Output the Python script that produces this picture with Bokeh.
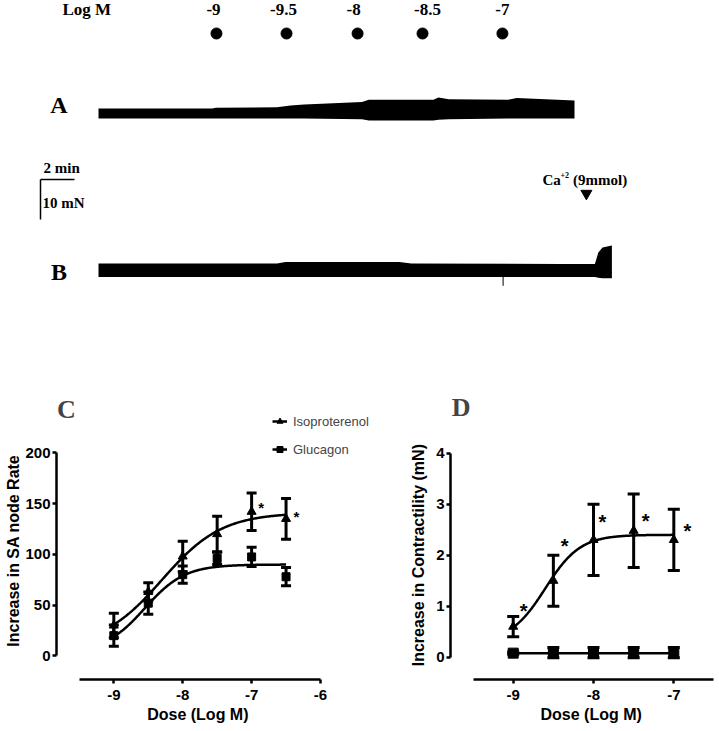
import numpy as np
from bokeh.plotting import figure
from bokeh.layouts import column, row
from bokeh.models import (ColumnDataSource, Whisker, TeeHead, Legend, LegendItem,
                          Label, FixedTicker, Range1d, Title)
from bokeh.core.properties import value
from bokeh.embed import file_html
from bokeh.resources import INLINE

# ======================= DATA =======================
# Panels A / B : force tracings (envelope in mN vs time in min)
dose_labels = ["-9", "-9.5", "-8", "-8.5", "-7"]
dose_times = [6.94, 11.06, 15.24, 19.06, 23.76]

trace_a_t = [0, 6.7, 6.9, 10.5, 11.3, 12.1, 15.5, 15.9, 19.7, 20.0, 20.6, 24.1, 24.6, 28.0]
trace_a_top = [2.5, 2.5, 2.7, 2.8, 3.25, 3.5, 4.1, 4.7, 4.7, 5.25, 4.8, 4.7, 5.1, 4.5]
trace_a_bottom = [0, 0, 0, 0, 0, 0, -0.2, -0.5, -0.5, -0.3, -0.2, 0, 0, 0]

trace_b_t = [0, 10.5, 11.0, 17.7, 18.4, 27.2, 29.2, 29.4, 29.65, 30.2]
trace_b_top = [3.4, 3.4, 3.75, 3.75, 3.4, 3.25, 3.25, 6.1, 7.4, 7.9]
trace_b_bottom = [0, 0, 0, 0, 0, 0, 0, -0.2, -0.3, -0.3]
trace_b_spike_t = [23.8]
trace_b_spike_min = [-2.2]

ca_time = 28.7
scale_min = 2
scale_mN = 10

# Panel C : SA node rate
dose_c = [-9, -8.5, -8, -7.5, -7, -6.5]
iso_rate_mean = [30, 63, 98, 120, 142, 135]
iso_rate_sem = [12, 9, 15, 17.5, 18.5, 20]
glu_rate_mean = [20, 52, 80, 96, 97.5, 78]
glu_rate_sem = [10.5, 11, 8.5, 6, 9.5, 9]
iso_rate_fit = (9, 141, -8.3, 1.0)      # bottom, top, logEC50, hill
glu_rate_fit = (4, 90, -8.55, 1.5)
rate_sig_x = [-6.86, -6.35]
rate_sig_y = [146, 137.6]
c_xticks = [-9, -8, -7, -6]
c_xlabels = ["-9", "-8", "-7", "-6"]
c_yticks = [0, 50, 100, 150, 200]
c_ylabels = ["0", "50", "100", "150", "200"]

# Panel D : contractility
dose_d = [-9, -8.5, -8, -7.5, -7]
iso_force_mean = [0.6, 1.5, 2.3, 2.48, 2.3]
iso_force_sem = [0.2, 0.5, 0.7, 0.72, 0.6]
glu_force_mean = [0.08, 0.09, 0.09, 0.09, 0.09]
glu_force_sem = [0.02, 0.1, 0.1, 0.1, 0.1]
iso_force_fit = (0.3, 2.4, -8.6, 2.0)
glu_force_fit = (0.08, 0.08, -8.5, 1.0)
force_sig_x = [-8.87, -8.36, -7.89, -7.35, -6.83]
force_sig_y = [0.9, 2.19, 2.65, 2.68, 2.48]
d_xticks = [-9, -8, -7]
d_xlabels = ["-9", "-8", "-7"]
d_yticks = [0, 1, 2, 3, 4]
d_ylabels = ["0", "1", "2", "3", "4"]

SERIF = "Liberation Serif"
SANS = "Liberation Sans"


def logistic(x, p):
    b, t, l, h = p
    return b + (t - b) / (1.0 + 10 ** ((l - x) * h))


# ======================= TOP (A / B) =======================
W = 719
H_TOP = 390
PX_MIN = 17.0
PX_MN = 4.0
T0 = 98  # px from left where t = 0


def fx(px):  # px -> minutes
    return (px - T0) / PX_MIN


def fy(py):  # px -> mN
    return (H_TOP - py) / PX_MN


top = figure(width=W, height=H_TOP, output_backend="svg", toolbar_location=None,
             x_range=Range1d(-T0 / PX_MIN, (W - T0) / PX_MIN),
             y_range=Range1d(0, H_TOP / PX_MN),
             x_axis_type=None, y_axis_type=None, min_border=0)
top.grid.visible = False
top.outline_line_color = None

A_BASE = fy(118)
B_BASE = fy(276.5)
top.varea(x=trace_a_t, y1=[A_BASE + v for v in trace_a_bottom],
          y2=[A_BASE + v for v in trace_a_top], fill_color="black")
top.varea(x=trace_b_t, y1=[B_BASE + v for v in trace_b_bottom],
          y2=[B_BASE + v for v in trace_b_top], fill_color="black")
top.segment(x0=trace_b_spike_t, y0=[B_BASE] * len(trace_b_spike_t),
            x1=trace_b_spike_t, y1=[B_BASE + v for v in trace_b_spike_min],
            line_color="black", line_width=1)

top.scatter(x=dose_times, y=[fy(33)] * len(dose_times), size=11, marker="circle",
            fill_color="black", line_color="black")
lab_src = ColumnDataSource(dict(x=dose_times, y=[fy(9)] * len(dose_times),
                                text=dose_labels, dx=[-3, -3, -4, 5, 0]))
top.text(x="x", y="y", text="text", x_offset="dx", source=lab_src,
         text_font=value(SERIF), text_font_style="bold", text_font_size="17px",
         text_align="center", text_baseline="middle", text_color="black")
top.text(x=[fx(62)], y=[fy(9)], text=["Log M"], text_font=value(SERIF),
         text_font_style="bold", text_font_size="17px", text_align="left",
         text_baseline="middle")
top.text(x=[fx(58.5), fx(58.5)], y=[fy(104), fy(271)], text=["A", "B"],
         text_font=value(SERIF), text_font_style="bold", text_font_size="24px",
         text_align="center", text_baseline="middle")

# scale bar
sb_x = fx(40)
sb_y = fy(179)
top.line(x=[sb_x, sb_x + scale_min], y=[sb_y, sb_y], line_color="black", line_width=1.5)
top.line(x=[sb_x, sb_x], y=[sb_y, sb_y - scale_mN], line_color="black", line_width=1.5)
top.text(x=[fx(43), fx(42)], y=[fy(167), fy(202)], text=["2 min", "10 mN"],
         text_font=value(SERIF), text_font_style="bold", text_font_size="15px",
         text_align="left", text_baseline="middle")

# Ca2+ marker
top.scatter(x=[ca_time], y=[fy(193)], marker="inverted_triangle", size=11,
            fill_color="black", line_color="black")
top.text(x=[fx(542)], y=[fy(179)], text=["Ca"], text_font=value(SERIF),
         text_font_style="bold", text_font_size="15px", text_align="left",
         text_baseline="middle")
top.text(x=[fx(560)], y=[fy(174)], text=["+2"], text_font=value(SERIF),
         text_font_style="bold", text_font_size="8px", text_align="left",
         text_baseline="middle")
top.text(x=[fx(572.5)], y=[fy(179)], text=["(9mmol)"], text_font=value(SERIF),
         text_font_style="bold", text_font_size="15px", text_align="left",
         text_baseline="middle")


# ======================= helpers for C / D =======================
def axis_title(p, text, side, offset, standoff):
    t = Title(text=text, align="left", offset=offset, standoff=standoff,
              text_font=SANS, text_font_style="bold", text_font_size="16px",
              text_color="black")
    p.add_layout(t, side)


def style_axes(p, xticks, xlabels, yticks, ylabels, xb, yb):
    xa = p.xaxis[0]
    ya = p.yaxis[0]
    xa.ticker = FixedTicker(ticks=xticks)
    ya.ticker = FixedTicker(ticks=yticks)
    xa.major_label_overrides = {t: l for t, l in zip(xticks, xlabels)}
    ya.major_label_overrides = {t: l for t, l in zip(yticks, ylabels)}
    xa.bounds = xb
    ya.bounds = yb
    for ax in (xa, ya):
        ax.axis_line_width = 2.5
        ax.axis_line_color = "black"
        ax.major_tick_line_width = 2.5
        ax.major_tick_line_color = "black"
        ax.major_tick_out = 4
        ax.major_tick_in = 0
        ax.minor_tick_line_color = None
        ax.major_label_text_font = SANS
        ax.major_label_text_font_style = "bold"
        ax.major_label_text_font_size = "15px"
        ax.major_label_text_color = "black"
    ya.major_label_standoff = 2
    xa.major_label_standoff = 6
    p.grid.visible = False
    p.outline_line_color = None


def add_series(p, xs, mean, sem, fit, marker, msize, head, x_end):
    src = ColumnDataSource(dict(x=xs, y=mean,
                                upper=[m + s for m, s in zip(mean, sem)],
                                lower=[m - s for m, s in zip(mean, sem)]))
    w = Whisker(source=src, base="x", upper="upper", lower="lower",
                line_color="black", line_width=3,
                upper_head=TeeHead(size=head, line_width=3, line_color="black"),
                lower_head=TeeHead(size=head, line_width=3, line_color="black"))
    p.add_layout(w)
    cx = np.linspace(xs[0], x_end, 200)
    ln = p.line(x=cx, y=logistic(cx, fit), line_color="black", line_width=2.5)
    pts = p.scatter(x="x", y="y", source=src, marker=marker, size=msize,
                    fill_color="black", line_color="black")
    return ln, pts


# ======================= PANEL C =======================
c = figure(width=392, height=341, output_backend="svg", toolbar_location=None,
           x_range=Range1d(-9.832, -4.955), y_range=Range1d(-23.17, 261.3),
           min_border_left=56, min_border_right=0, min_border_top=0,
           min_border_bottom=50)
style_axes(c, c_xticks, c_xlabels, c_yticks, c_ylabels, (-9.5, -6), (0, 200))
axis_title(c, "Increase in SA node Rate", "left", 32.8, 2)
axis_title(c, "Dose (Log M)", "below", 90.7, 2)
iso_l, iso_p = add_series(c, dose_c, iso_rate_mean, iso_rate_sem, iso_rate_fit,
                          "triangle", 9, 10, dose_c[-1])
glu_l, glu_p = add_series(c, dose_c, glu_rate_mean, glu_rate_sem, glu_rate_fit,
                          "square", 8, 10, dose_c[-1])
c.text(x=rate_sig_x, y=rate_sig_y, text=["*"] * len(rate_sig_x),
       text_font=value(SANS), text_font_style="bold", text_font_size="15px",
       text_align="center", text_baseline="middle")
c.add_layout(Label(x=-9.687, y=242.7, text="C", text_font=SERIF,
                   text_font_style="bold", text_font_size="26px",
                   text_align="center", text_baseline="middle"))
leg = Legend(items=[LegendItem(label="Isoproterenol", renderers=[iso_l, iso_p]),
                    LegendItem(label="Glucagon", renderers=[glu_l, glu_p])],
             location=(216, 220), padding=0, margin=0, spacing=8,
             glyph_width=15, glyph_height=20, label_height=20, label_standoff=6,
             label_text_font=SANS, label_text_font_size="13px",
             border_line_alpha=0, background_fill_alpha=0)
c.add_layout(leg)

# ======================= PANEL D =======================
d = figure(width=327, height=341, output_backend="svg", toolbar_location=None,
           x_range=Range1d(-9.781, -6.431), y_range=Range1d(-0.437, 5.229),
           min_border_left=58, min_border_right=0, min_border_top=0,
           min_border_bottom=52)
style_axes(d, d_xticks, d_xlabels, d_yticks, d_ylabels, (-9.5, -6.5), (0, 4))
axis_title(d, "Increase in Contractility (mN)", "left", 13.2, 14)
axis_title(d, "Dose (Log M)", "below", 90, 2)
add_series(d, dose_d, iso_force_mean, iso_force_sem, iso_force_fit,
           "triangle", 9, 12, dose_d[-1])
add_series(d, dose_d, glu_force_mean, glu_force_sem, glu_force_fit,
           "square", 10, 12, dose_d[-1])
d.text(x=force_sig_x, y=force_sig_y, text=["*"] * len(force_sig_x),
       text_font=value(SANS), text_font_style="bold", text_font_size="20px",
       text_align="center", text_baseline="middle")
d.add_layout(Label(x=-9.650, y=4.902, text="D", text_font=SERIF,
                   text_font_style="bold", text_font_size="26px",
                   text_align="center", text_baseline="middle"))

layout = column(top, row(c, d))
open("out.html", "w").write(file_html(layout, INLINE))
